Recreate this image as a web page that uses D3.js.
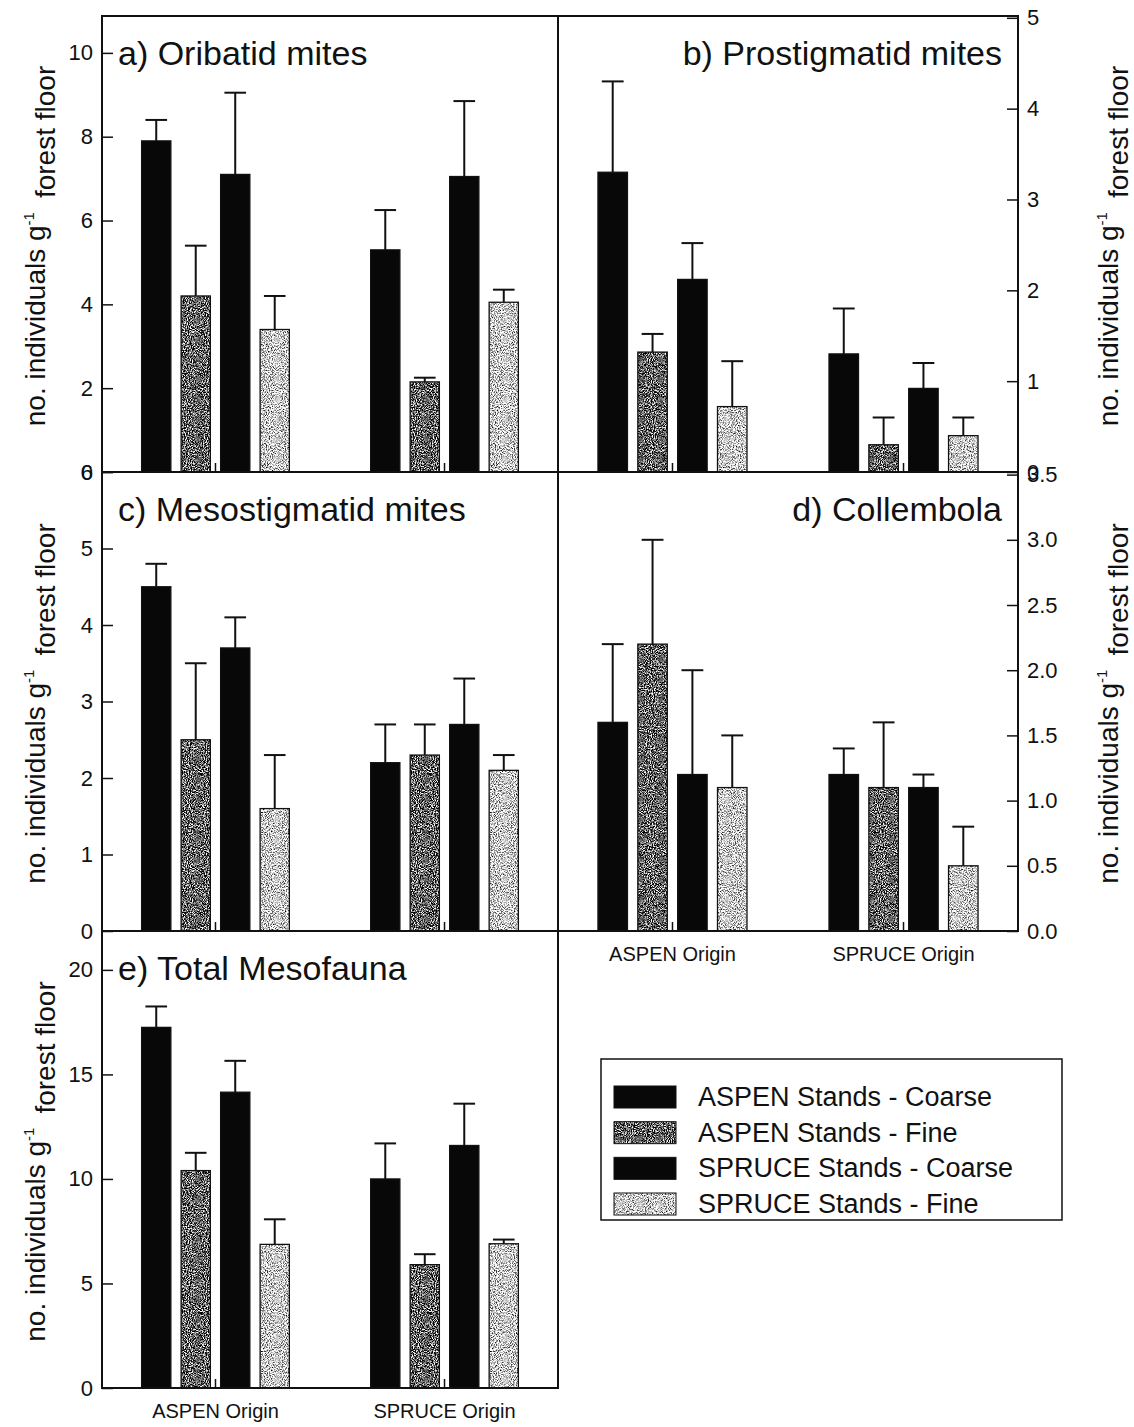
<!DOCTYPE html>
<html>
<head>
<meta charset="utf-8">
<script src="https://cdn.jsdelivr.net/npm/d3@7"></script>
<style>
  body { margin: 0; background: #fff; }
  svg { display: block; }
  text { font-family: "Liberation Sans", Arial, Helvetica, sans-serif; fill: #111; }
</style>
</head>
<body>
<svg id="chart" width="1134" height="1427"></svg>
<script>
// Forest-floor origin (x groups) and stand / litter-size treatments (bars within a group)
const origins = ["ASPEN Origin", "SPRUCE Origin"];
const stands = ["ASPEN Stands - Coarse", "ASPEN Stands - Fine", "SPRUCE Stands - Coarse", "SPRUCE Stands - Fine"];

// Mean number of individuals per g forest floor, listed ASPEN Origin (4 stands) then SPRUCE Origin (4 stands)
const oribatidMean = [7.9, 4.2, 7.1, 3.4, 5.3, 2.15, 7.05, 4.05];
const oribatidSE   = [0.5, 1.2, 1.95, 0.8, 0.95, 0.1, 1.8, 0.3];

const prostigMean = [3.3, 1.32, 2.12, 0.72, 1.3, 0.3, 0.92, 0.4];
const prostigSE   = [1.0, 0.2, 0.4, 0.5, 0.5, 0.3, 0.28, 0.2];

const mesostigMean = [4.5, 2.5, 3.7, 1.6, 2.2, 2.3, 2.7, 2.1];
const mesostigSE   = [0.3, 1.0, 0.4, 0.7, 0.5, 0.4, 0.6, 0.2];

const collemMean = [1.6, 2.2, 1.2, 1.1, 1.2, 1.1, 1.1, 0.5];
const collemSE   = [0.6, 0.8, 0.8, 0.4, 0.2, 0.5, 0.1, 0.3];

const totalMean = [17.25, 10.4, 14.15, 6.87, 10.0, 5.9, 11.6, 6.9];
const totalSE   = [1.0, 0.85, 1.5, 1.2, 1.7, 0.5, 2.0, 0.2];

// Axis tick values
const oribatidTicks = [0, 2, 4, 6, 8, 10];
const prostigTicks  = [0, 1, 2, 3, 4, 5];
const mesostigTicks = [0, 1, 2, 3, 4, 5, 6];
const collemTicks   = [0, 0.5, 1.0, 1.5, 2.0, 2.5, 3.0, 3.5];
const totalTicks    = [0, 5, 10, 15, 20];

const yTitle = "no. individuals g";

// Frame geometry
const L = 102, M = 558, R = 1018;
const rows = [16, 472, 931, 1388];

const panels = [
  { title: "a) Oribatid mites",      mean: oribatidMean, se: oribatidSE, ticks: oribatidTicks, max: 10.88, fmt: d3.format("d"),
    x: [L, M], y: [rows[0], rows[1]], side: "left",  anchor: "start", xLabels: false },
  { title: "b) Prostigmatid mites",  mean: prostigMean,  se: prostigSE,  ticks: prostigTicks,  max: 5.02,  fmt: d3.format("d"),
    x: [M, R], y: [rows[0], rows[1]], side: "right", anchor: "end",   xLabels: false },
  { title: "c) Mesostigmatid mites", mean: mesostigMean, se: mesostigSE, ticks: mesostigTicks, max: 6.0,   fmt: d3.format("d"),
    x: [L, M], y: [rows[1], rows[2]], side: "left",  anchor: "start", xLabels: false },
  { title: "d) Collembola",          mean: collemMean,   se: collemSE,   ticks: collemTicks,   max: 3.52,  fmt: d3.format(".1f"),
    x: [M, R], y: [rows[1], rows[2]], side: "right", anchor: "end",   xLabels: true },
  { title: "e) Total Mesofauna",     mean: totalMean,    se: totalSE,    ticks: totalTicks,    max: 21.86, fmt: d3.format("d"),
    x: [L, M], y: [rows[2], rows[3]], side: "left",  anchor: "start", xLabels: true }
];

const svg = d3.select("#chart");
const defs = svg.append("defs");

// Speckled grey fills for the fine-litter bars
function grain(id, k, offset, seed) {
  const f = defs.append("filter").attr("id", id)
    .attr("x", 0).attr("y", 0).attr("width", 1).attr("height", 1)
    .attr("color-interpolation-filters", "sRGB");
  f.append("feTurbulence").attr("type", "fractalNoise").attr("baseFrequency", 0.95)
    .attr("numOctaves", 2).attr("seed", seed).attr("result", "noise");
  f.append("feColorMatrix").attr("in", "noise").attr("type", "matrix")
    .attr("values", `${k} 0 0 0 ${offset}  ${k} 0 0 0 ${offset}  ${k} 0 0 0 ${offset}  0 0 0 0 1`)
    .attr("result", "tone");
  f.append("feComposite").attr("in", "tone").attr("in2", "SourceGraphic").attr("operator", "in");
}
grain("grainDark", 3.0, -1.12, 4);
grain("grainLight", 2.4, -0.4, 9);

const standStyle = {
  "ASPEN Stands - Coarse":  { fill: "#080808", filter: null },
  "ASPEN Stands - Fine":    { fill: "#444", filter: "url(#grainDark)" },
  "SPRUCE Stands - Coarse": { fill: "#080808", filter: null },
  "SPRUCE Stands - Fine":   { fill: "#ddd", filter: "url(#grainLight)" }
};

panels.forEach(p => {
  const rowsData = p.mean.map((v, i) => ({
    origin: origins[Math.floor(i / stands.length)],
    stand: stands[i % stands.length],
    value: v,
    upper: v + p.se[i]
  }));

  const x0 = d3.scaleBand().domain(origins).range(p.x).paddingInner(0.355).paddingOuter(0.173);
  const x1 = d3.scaleBand().domain(stands).range([0, x0.bandwidth()]).paddingInner(0.26).paddingOuter(0);
  const y = d3.scaleLinear().domain([0, p.max]).range([p.y[1], p.y[0]]);

  const g = svg.append("g");

  // Bars
  const bars = g.append("g").selectAll("g").data(rowsData).join("g")
    .attr("transform", d => `translate(${x0(d.origin) + x1(d.stand)},0)`);
  bars.append("rect")
    .attr("x", 0).attr("width", x1.bandwidth())
    .attr("y", d => y(d.value)).attr("height", d => y(0) - y(d.value))
    .attr("fill", d => standStyle[d.stand].fill)
    .attr("filter", d => standStyle[d.stand].filter);
  bars.append("rect")
    .attr("x", 0).attr("width", x1.bandwidth())
    .attr("y", d => y(d.value)).attr("height", d => y(0) - y(d.value))
    .attr("fill", "none").attr("stroke", "#111").attr("stroke-width", 1.3);

  // Error bars (upper half only)
  const capW = x1.bandwidth() * 0.74;
  bars.append("line")
    .attr("x1", x1.bandwidth() / 2).attr("x2", x1.bandwidth() / 2)
    .attr("y1", d => y(d.value)).attr("y2", d => y(d.upper))
    .attr("stroke", "#111").attr("stroke-width", 2);
  bars.append("line")
    .attr("x1", (x1.bandwidth() - capW) / 2).attr("x2", (x1.bandwidth() + capW) / 2)
    .attr("y1", d => y(d.upper)).attr("y2", d => y(d.upper))
    .attr("stroke", "#111").attr("stroke-width", 2);

  // Value axis with inward ticks
  const axisGen = (p.side === "left" ? d3.axisLeft(y) : d3.axisRight(y))
    .tickValues(p.ticks).tickFormat(p.fmt).tickSizeInner(-11).tickSizeOuter(0).tickPadding(9);
  const ax = g.append("g")
    .attr("transform", `translate(${p.side === "left" ? p.x[0] : p.x[1]},0)`)
    .call(axisGen);
  ax.select(".domain").remove();
  ax.selectAll(".tick line").attr("stroke", "#111").attr("stroke-width", 1.5);
  ax.selectAll(".tick text").style("font-size", "22px").attr("fill", "#111");

  // Category axis: short inward ticks at group centres, labels on the lowest panels
  const xa = g.append("g")
    .attr("transform", `translate(0,${p.y[1]})`)
    .call(d3.axisBottom(x0).tickSizeInner(-9).tickSizeOuter(0).tickPadding(16)
      .tickFormat(d => p.xLabels ? d : ""));
  xa.select(".domain").remove();
  xa.selectAll(".tick line").attr("stroke", "#111").attr("stroke-width", 1.5);
  xa.selectAll(".tick text").style("font-size", "20px").attr("fill", "#111");

  // Panel frame
  g.append("rect")
    .attr("x", p.x[0]).attr("y", p.y[0])
    .attr("width", p.x[1] - p.x[0]).attr("height", p.y[1] - p.y[0])
    .attr("fill", "none").attr("stroke", "#111").attr("stroke-width", 2);

  // Panel title
  g.append("text")
    .attr("x", p.anchor === "start" ? p.x[0] + 16 : p.x[1] - 16)
    .attr("y", p.y[0] + 49)
    .attr("text-anchor", p.anchor)
    .style("font-size", "34px")
    .text(p.title);

  // Value-axis title
  const tx = p.side === "left" ? 45 : 1118;
  const ty = (p.y[0] + p.y[1]) / 2 + 2;
  const t = svg.append("text")
    .attr("transform", `translate(${tx},${ty}) rotate(-90)`)
    .attr("text-anchor", "middle")
    .style("font-size", "28px");
  t.append("tspan").text(yTitle);
  t.append("tspan").attr("dy", "-0.75em").style("font-size", "15px").text("-1");
  t.append("tspan").attr("dy", "0.75em").text("\u2002forest floor");
});

// Legend
const legendTop = 1059;
const legend = svg.append("g");
legend.append("rect")
  .attr("x", 601).attr("y", legendTop).attr("width", 461).attr("height", 161)
  .attr("fill", "none").attr("stroke", "#111").attr("stroke-width", 1.5);
const ly = d3.scalePoint().domain(stands).range([legendTop + 38, legendTop + 145]);
const items = legend.selectAll("g.item").data(stands).join("g").attr("class", "item")
  .attr("transform", d => `translate(0,${ly(d)})`);
items.append("rect")
  .attr("x", 614).attr("y", -11).attr("width", 62).attr("height", 22)
  .attr("fill", d => standStyle[d].fill)
  .attr("filter", d => standStyle[d].filter);
items.append("rect")
  .attr("x", 614).attr("y", -11).attr("width", 62).attr("height", 22)
  .attr("fill", "none").attr("stroke", "#111").attr("stroke-width", 1);
items.append("text")
  .attr("x", 698).attr("y", 9)
  .style("font-size", "27px")
  .text(d => d);
</script>
</body>
</html>
